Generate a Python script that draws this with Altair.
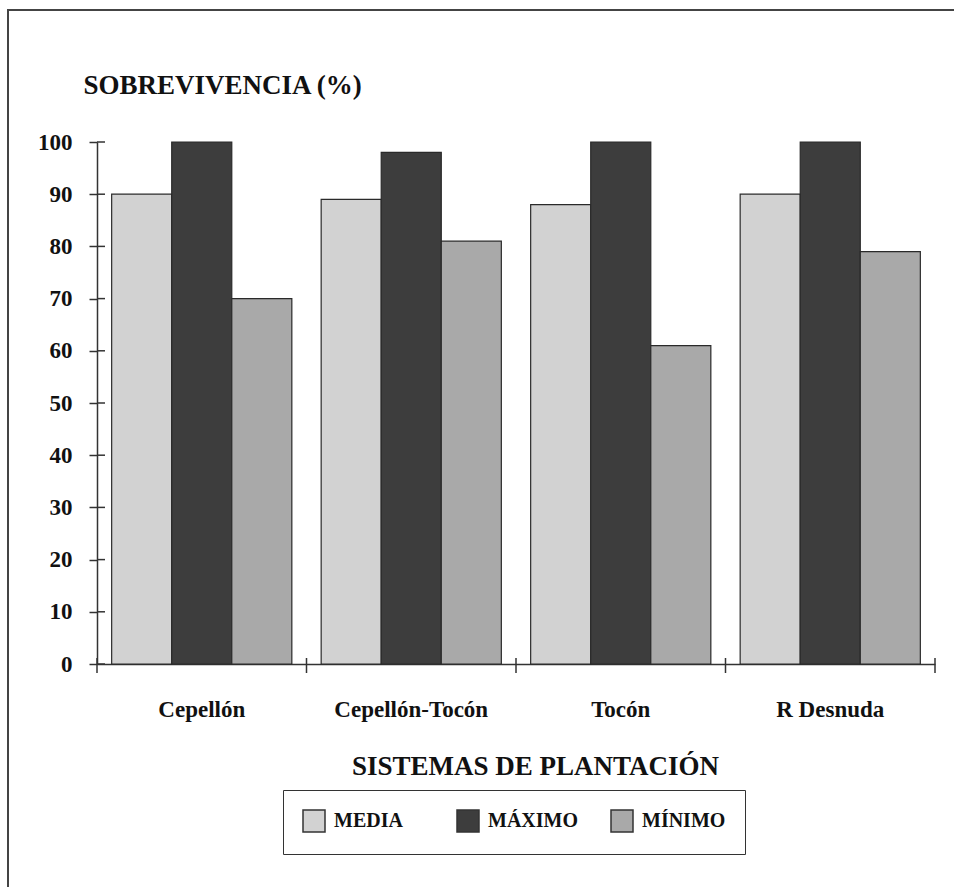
import altair as alt
import pandas as pd

categories = ["Cepellón", "Cepellón-Tocón", "Tocón", "R Desnuda"]
series = ["MEDIA", "MÁXIMO", "MÍNIMO"]
media = [90, 89, 88, 90]
maximo = [100, 98, 100, 100]
minimo = [70, 81, 61, 79]
y_ticks = [0, 10, 20, 30, 40, 50, 60, 70, 80, 90, 100]
colors = ["#d2d2d2", "#3d3d3d", "#a9a9a9"]

rows = []
for i, c in enumerate(categories):
    for s, vals in zip(series, [media, maximo, minimo]):
        rows.append({"sistema": c, "serie": s, "valor": vals[i]})
df = pd.DataFrame(rows)

FONT = "Liberation Serif"
W, H = 838, 522
STEP = W / len(categories)

bars = alt.Chart(df).mark_bar(stroke="#2a2a2a", strokeWidth=1.2).encode(
    x=alt.X(
        "sistema:N",
        sort=categories,
        scale=alt.Scale(paddingInner=0.14, paddingOuter=0.07),
        axis=alt.Axis(
            title="SISTEMAS DE PLANTACIÓN",
            labelAngle=0,
            ticks=False,
            domainColor="#333333",
            domainWidth=1.5,
            labelPadding=34,
            labelFont=FONT,
            labelFontWeight="bold",
            labelFontSize=23,
            labelColor="#111111",
            titleFont=FONT,
            titleFontWeight="bold",
            titleFontSize=27,
            titleColor="#111111",
            titleX=438,
            titleY=110,
            titleBaseline="alphabetic",
            titleAlign="center",
        ),
    ),
    xOffset=alt.XOffset("serie:N", sort=series),
    y=alt.Y(
        "valor:Q",
        scale=alt.Scale(domain=[0, 100], nice=False),
        axis=alt.Axis(
            title="SOBREVIVENCIA (%)",
            values=y_ticks,
            grid=False,
            tickSize=8,
            tickWidth=1.5,
            tickColor="#333333",
            domainColor="#333333",
            domainWidth=1.5,
            labelPadding=17,
            labelFont=FONT,
            labelFontWeight="bold",
            labelFontSize=23,
            labelColor="#111111",
            titleFont=FONT,
            titleFontWeight="bold",
            titleFontSize=27,
            titleColor="#111111",
            titleAngle=0,
            titleX=-14,
            titleY=-49,
            titleAlign="left",
            titleBaseline="alphabetic",
        ),
    ),
    color=alt.Color(
        "serie:N",
        sort=series,
        scale=alt.Scale(domain=series, range=colors),
        legend=alt.Legend(
            title=None,
            orient="none",
            legendX=186,
            legendY=648,
            direction="horizontal",
            gridAlign="all",
            columnPadding=30,
            padding=19,
            strokeColor="#333333",
            symbolType="square",
            symbolSize=484,
            symbolStrokeColor="#333333",
            symbolStrokeWidth=1.5,
            symbolOpacity=1,
            labelOffset=8,
            labelFont=FONT,
            labelFontWeight="bold",
            labelFontSize=20,
            labelColor="#111111",
        ),
    ),
)

tick_df = pd.DataFrame({"t": y_ticks})
inner_y_ticks = alt.Chart(tick_df).mark_rule(color="#333333", strokeWidth=1.5).encode(
    y="t:Q", x=alt.value(0), x2=alt.value(8)
)

cat_df = pd.DataFrame({"sistema": categories})
x_ticks = alt.Chart(cat_df).mark_rule(
    color="#333333", strokeWidth=1.5, xOffset=-STEP / 2
).encode(
    x=alt.X("sistema:N", sort=categories),
    y=alt.value(H - 6),
    y2=alt.value(H + 9),
)
end_tick = alt.Chart(alt.Data(values=[{"a": 1}])).mark_rule(
    color="#333333", strokeWidth=1.5
).encode(x=alt.value(W), y=alt.value(H - 6), y2=alt.value(H + 9))

frame = alt.Chart(alt.Data(values=[{"a": 1}])).mark_rect(
    fill=None, stroke="#444444", strokeWidth=2
).encode(
    x=alt.value(-89), x2=alt.value(1100), y=alt.value(-132), y2=alt.value(1100)
)

chart = alt.layer(frame, bars, inner_y_ticks, x_ticks, end_tick).properties(
    width=W,
    height=H,
    autosize=alt.AutoSizeParams(type="none"),
    padding={"left": 97, "top": 142, "right": 19, "bottom": 223},
    background="white",
).configure_view(stroke=None)

chart.save("out.html", embed_options={"renderer": "svg", "actions": False})
